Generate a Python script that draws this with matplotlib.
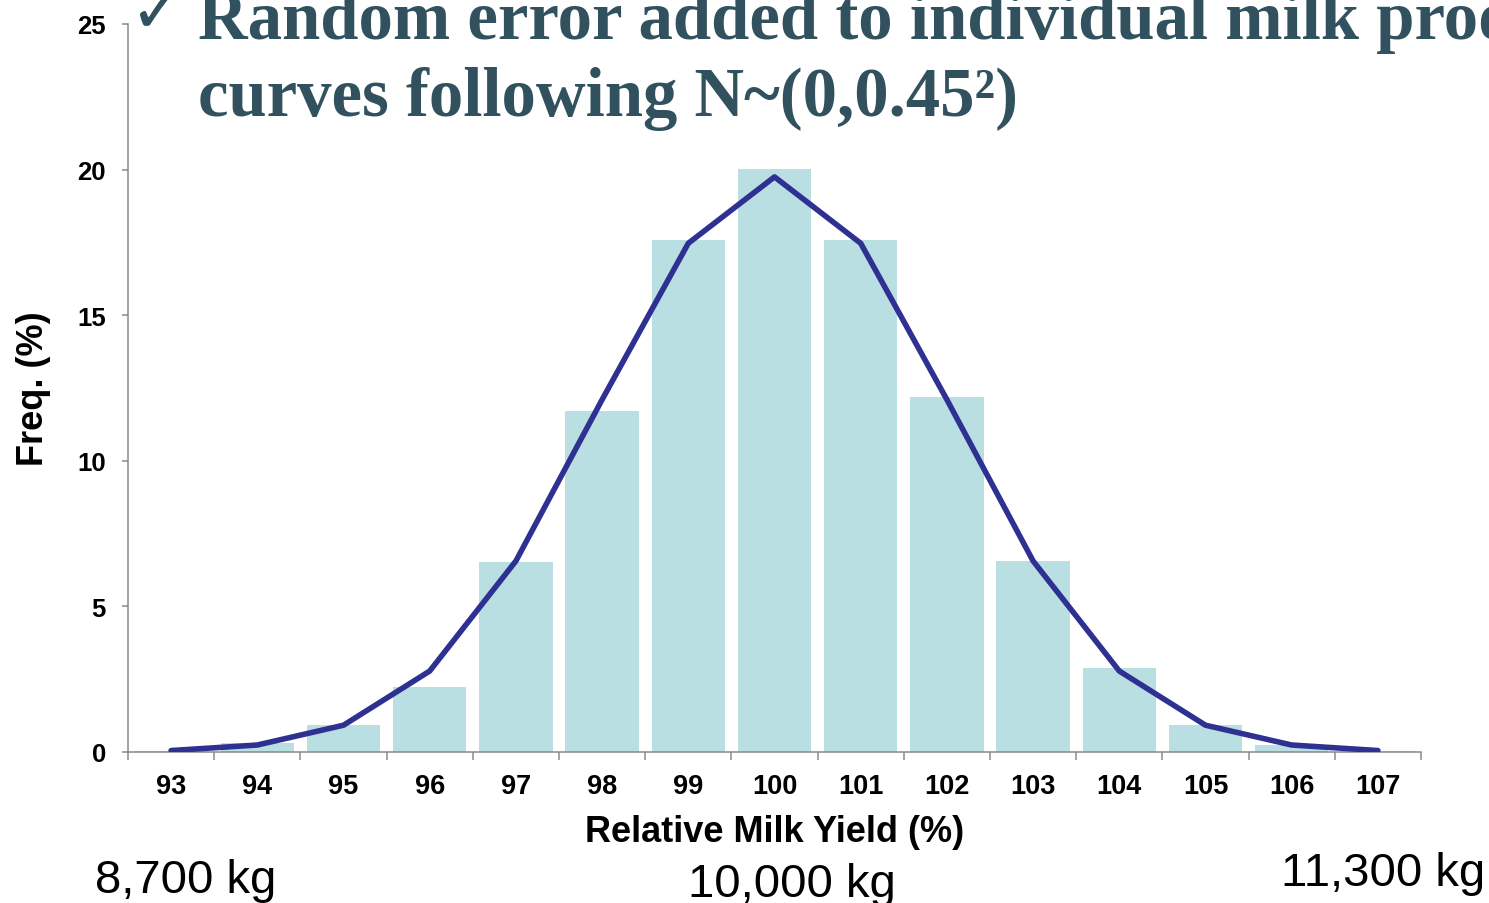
import matplotlib
matplotlib.use("Agg")
import matplotlib.pyplot as plt
import numpy as np

plt.rcParams['font.family'] = ['Liberation Sans', 'DejaVu Sans']

# data
yields = [93, 94, 95, 96, 97, 98, 99, 100, 101, 102, 103, 104, 105, 106, 107]
freq_bars = [0.05, 0.3, 0.93, 2.23, 6.52, 11.71, 17.58, 20.02, 17.58, 12.19, 6.56, 2.88, 0.93, 0.24, 0.05]
freq_curve = [0.05, 0.24, 0.92, 2.78, 6.56, 12.1, 17.47, 19.75, 17.47, 12.1, 6.56, 2.78, 0.92, 0.24, 0.05]
kg_labels = ["8,700 kg", "10,000 kg", "11,300 kg"]

title1 = "Random error added to individual milk production"
title2 = "curves following N~(0,0.45\u00b2)"

bar_color = '#b9dfe3'
line_color = '#2e3192'
title_color = '#31515f'
spine_color = '#8a8a8a'

fig = plt.figure(figsize=(14.89, 9.04), dpi=100)
ax = fig.add_axes([128/1489, 1 - 753/904, (1421 - 128)/1489, (753 - 25)/904])

ax.bar(yields, freq_bars, width=0.85, color=bar_color, zorder=1)
ax.plot(yields, freq_curve, color=line_color, lw=4, solid_capstyle='round', zorder=3)

ax.set_xlim(92.5, 107.5)
ax.set_ylim(0, 25)
ax.set_yticks([0, 5, 10, 15, 20, 25])

# boundary ticks without labels, labels at category centres
ax.set_xticks(np.arange(92.5, 108, 1))
ax.set_xticklabels([])
ax.set_xticks(yields, minor=True)
ax.set_xticklabels([str(v) for v in yields], minor=True)
ax.tick_params(axis='x', which='major', direction='out', length=6, width=1.1, color=spine_color)
ax.tick_params(axis='x', which='minor', length=0, pad=15, labelsize=19.5)
ax.tick_params(axis='y', direction='out', length=4, width=1.1, color=spine_color, pad=12, labelsize=18.5)
for lab in ax.get_xticklabels(minor=True) + ax.get_yticklabels():
    lab.set_fontweight('bold')

for s in ['top', 'right']:
    ax.spines[s].set_visible(False)
for s in ['left', 'bottom']:
    ax.spines[s].set_color(spine_color)
    ax.spines[s].set_linewidth(1.1)

ax.set_xlabel("Relative Milk Yield (%)", fontsize=26, fontweight='bold', labelpad=11)
ax.set_ylabel("Freq. (%)", fontsize=26, fontweight='bold', labelpad=19)

# slide title overlapping the chart
fig.text(129/1489, 1 - 32/904, "\u2713", fontsize=48, fontweight='bold', color=title_color,
         family=['DejaVu Sans'], va='baseline')
fig.text(198/1489, 1 - 39/904, title1, fontsize=49.5, fontweight='bold', color=title_color,
         family=['Liberation Serif', 'DejaVu Serif'], va='baseline')
fig.text(198/1489, 1 - 116/904, title2, fontsize=49.5, fontweight='bold', color=title_color,
         family=['Liberation Serif', 'DejaVu Serif'], va='baseline')

# kg annotations under the axis
fig.text(95/1489, 1 - 893/904, kg_labels[0], fontsize=34, va='baseline')
fig.text(688/1489, 1 - 897/904, kg_labels[1], fontsize=34, va='baseline')
fig.text(1281/1489, 1 - 886/904, kg_labels[2], fontsize=34, va='baseline')

fig.savefig("out.png", dpi=100)
